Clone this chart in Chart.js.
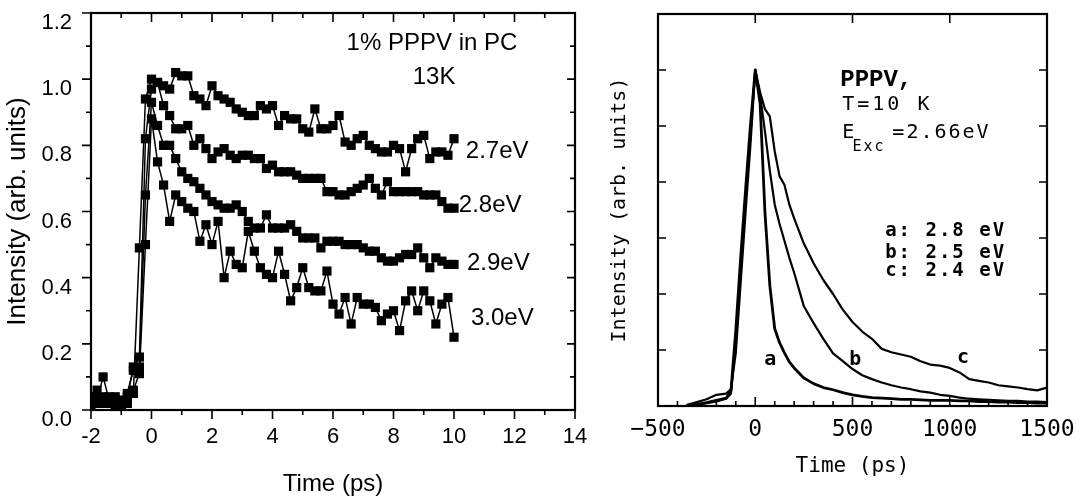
<!DOCTYPE html>
<html>
<head>
<meta charset="utf-8">
<script src="https://cdn.jsdelivr.net/npm/chart.js@4.4.0/dist/chart.umd.min.js"></script>
<style>
  html, body { margin: 0; padding: 0; background: #fff; overflow: hidden; width: 1076px; height: 496px; }
  #left { position: absolute; left: 0; top: 0; }
  #right { position: absolute; left: 600px; top: 0; }
</style>
</head>
<body>
<canvas id="left" width="610" height="500"></canvas>
<canvas id="right" width="476" height="496"></canvas>
<script>
// ---- left panel: 1% PPPV in PC, 13K ----
const leftTime = [-2, -1.8, -1.6, -1.4, -1.2, -1, -0.8, -0.6, -0.4, -0.2,
  0, 0.2, 0.4, 0.6, 0.8, 1, 1.2, 1.4, 1.6, 1.8, 2, 2.2, 2.4, 2.6, 2.8, 3, 3.2, 3.4, 3.6, 3.8,
  4, 4.2, 4.4, 4.6, 4.8, 5, 5.2, 5.4, 5.6, 5.8, 6, 6.2, 6.4, 6.6, 6.8, 7, 7.2, 7.4, 7.6, 7.8,
  8, 8.2, 8.4, 8.6, 8.8, 9, 9.2, 9.4, 9.6, 9.8, 10];

const int27 = [0.04, 0.03, 0.10, 0.03, 0.02, 0.01, 0.03, 0.05, 0.49, 0.94,
  1.00, 0.99, 0.98, 0.97, 1.02, 1.01, 1.01, 0.95, 0.94, 0.92, 0.98, 0.95, 0.94, 0.93, 0.91,
  0.90, 0.89, 0.89, 0.92, 0.91, 0.92, 0.86, 0.89, 0.88, 0.88, 0.85, 0.84, 0.91, 0.85, 0.85,
  0.86, 0.89, 0.81, 0.80, 0.82, 0.83, 0.80, 0.79, 0.78, 0.78, 0.80, 0.79, 0.72, 0.79, 0.82,
  0.83, 0.76, 0.78, 0.78, 0.77, 0.82];
const int28 = [0.02, 0.06, 0.03, 0.04, 0.03, 0.02, 0.04, 0.13, 0.16, 0.82,
  0.97, 0.99, 0.92, 0.89, 0.85, 0.85, 0.86, 0.80, 0.82, 0.79, 0.76, 0.78, 0.79, 0.77, 0.76,
  0.77, 0.77, 0.76, 0.76, 0.73, 0.74, 0.72, 0.72, 0.72, 0.71, 0.70, 0.70, 0.70, 0.70, 0.66,
  0.66, 0.65, 0.65, 0.66, 0.67, 0.68, 0.70, 0.67, 0.65, 0.69, 0.66, 0.66, 0.66, 0.66, 0.66,
  0.65, 0.65, 0.65, 0.63, 0.61, 0.61];
const int29 = [0.03, 0.02, 0.04, 0.02, 0.01, 0.03, 0.05, 0.12, 0.13, 0.65,
  0.93, 0.86, 0.80, 0.80, 0.76, 0.72, 0.70, 0.69, 0.67, 0.65, 0.63, 0.62, 0.61, 0.61, 0.62,
  0.60, 0.57, 0.55, 0.55, 0.59, 0.55, 0.55, 0.55, 0.56, 0.54, 0.52, 0.52, 0.52, 0.49, 0.51,
  0.51, 0.51, 0.50, 0.50, 0.50, 0.49, 0.48, 0.48, 0.46, 0.45, 0.45, 0.46, 0.47, 0.47, 0.49,
  0.46, 0.43, 0.46, 0.45, 0.44, 0.44];
const int30 = [0.01, 0.04, 0.02, 0.03, 0.04, 0.00, 0.02, 0.06, 0.11, 0.50,
  0.88, 0.75, 0.68, 0.57, 0.65, 0.63, 0.61, 0.60, 0.51, 0.56, 0.50, 0.57, 0.40, 0.48, 0.44,
  0.43, 0.54, 0.48, 0.43, 0.41, 0.40, 0.48, 0.41, 0.33, 0.37, 0.43, 0.37, 0.36, 0.36, 0.42,
  0.32, 0.29, 0.34, 0.26, 0.34, 0.32, 0.32, 0.31, 0.27, 0.29, 0.30, 0.24, 0.33, 0.36, 0.30,
  0.36, 0.33, 0.26, 0.32, 0.34, 0.22];
const leftNames = ['2.7eV', '2.8eV', '2.9eV', '3.0eV'];
const leftNameY = [0.782, 0.619, 0.444, 0.278];

// ---- right panel: PPPV, T=10 K ----
const rightTime = [-350, -300, -250, -200, -150, -125, -100, -75, -50, -25,
  0, 25, 50, 75, 100, 125, 150, 175, 200,
  250, 300, 350, 400, 450, 500, 550, 600, 650, 700, 750, 800, 850, 900, 950,
  1000, 1050, 1100, 1150, 1200, 1250, 1300, 1350, 1400, 1450, 1500];
const curveA = [0.00, 0.03, 0.06, 0.10, 0.14, 0.27, 1.35, 2.65, 3.85, 5.00,
  6.00, 5.40, 3.45, 2.15, 1.38, 1.13, 0.95, 0.79, 0.68,
  0.50, 0.40, 0.33, 0.29, 0.24, 0.20, 0.17, 0.15, 0.14, 0.13, 0.12, 0.12, 0.11, 0.10, 0.10,
  0.10, 0.09, 0.09, 0.08, 0.08, 0.07, 0.07, 0.06, 0.06, 0.05, 0.05];
const curveB = [0.00, 0.02, 0.05, 0.08, 0.13, 0.22, 1.15, 2.42, 3.65, 4.82,
  6.00, 5.55, 4.90, 4.20, 3.60, 3.25, 2.95, 2.65, 2.38,
  1.78, 1.48, 1.20, 0.94, 0.80, 0.66, 0.55, 0.48, 0.42, 0.37, 0.33, 0.30, 0.26, 0.24, 0.20,
  0.18, 0.15, 0.13, 0.12, 0.11, 0.10, 0.09, 0.09, 0.08, 0.08, 0.07];
const curveC = [0.02, 0.07, 0.12, 0.20, 0.22, 0.30, 0.95, 2.20, 3.45, 4.65,
  6.00, 5.60, 5.30, 5.17, 4.55, 4.10, 3.95, 3.60, 3.35,
  2.90, 2.55, 2.25, 2.00, 1.72, 1.50, 1.33, 1.20, 1.02, 0.96, 0.92, 0.88, 0.80, 0.74, 0.72,
  0.68, 0.60, 0.48, 0.45, 0.42, 0.37, 0.35, 0.33, 0.30, 0.28, 0.33];
const curveNames = ['a', 'b', 'c'];
const curveLegend = ['a: 2.8 eV', 'b: 2.5 eV', 'c: 2.4 eV'];

// frame + tick marks drawn from the chart's own scales
function frameTicks(specs, frameWidth) {
  return {
    id: 'frameTicks',
    afterDraw(chart) {
      const {ctx, chartArea: a, scales} = chart;
      ctx.save();
      ctx.strokeStyle = '#000';
      ctx.lineWidth = frameWidth;
      ctx.strokeRect(a.left, a.top, a.right - a.left, a.bottom - a.top);
      ctx.lineWidth = 1.6;
      ctx.beginPath();
      for (const s of specs) {
        const sc = scales[s.axis];
        const n = Math.round((sc.max - sc.min) / s.step);
        for (let i = 0; i <= n; i++) {
          const v = sc.min + i * s.step;
          const r = v / s.major;
          const len = Math.abs(r - Math.round(r)) < 1e-6 ? s.long : s.short;
          if (!len) continue;
          const p = sc.getPixelForValue(v);
          const d = s.out ? len : -len;
          if (s.side === 'left') { ctx.moveTo(a.left, p); ctx.lineTo(a.left - d, p); }
          if (s.side === 'right') { ctx.moveTo(a.right, p); ctx.lineTo(a.right + d, p); }
          if (s.side === 'top') { ctx.moveTo(p, a.top); ctx.lineTo(p, a.top - d); }
          if (s.side === 'bottom') { ctx.moveTo(p, a.bottom); ctx.lineTo(p, a.bottom + d); }
        }
      }
      ctx.stroke();
      ctx.restore();
    }
  };
}

function notes(items) {
  return {
    id: 'notes',
    afterDraw(chart) {
      const {ctx, scales: {x, y}} = chart;
      ctx.save();
      ctx.fillStyle = '#000';
      ctx.textBaseline = 'middle';
      for (const n of items) {
        ctx.font = n.font;
        ctx.textAlign = n.align || 'left';
        if ('letterSpacing' in ctx) ctx.letterSpacing = (n.spacing || 0) + 'px';
        ctx.fillText(n.text, x.getPixelForValue(n.x), y.getPixelForValue(n.y));
      }
      ctx.restore();
    }
  };
}

function fixed(size) {
  return function (scale) {
    if (scale.isHorizontal()) scale.height = size; else scale.width = size;
    scale.paddingTop = 0; scale.paddingBottom = 0;
    scale.paddingLeft = 0; scale.paddingRight = 0;
  };
}

const sans = 'Liberation Sans';
const mono = 'DejaVu Sans Mono';

// ---- left chart ----
new Chart(document.getElementById('left'), {
  type: 'scatter',
  data: {
    datasets: [int27, int28, int29, int30].map((vals, k) => ({
      label: leftNames[k],
      data: leftTime.map((t, i) => ({x: t, y: vals[i]})),
      showLine: true,
      borderColor: '#000',
      borderWidth: 1.5,
      pointStyle: 'rect',
      pointRadius: 6.5,
      pointBackgroundColor: '#000',
      pointBorderWidth: 0
    }))
  },
  options: {
    responsive: false,
    animation: false,
    layout: {padding: {top: 13, right: 35, left: 0, bottom: 0}},
    plugins: {legend: {display: false}, tooltip: {enabled: false}},
    scales: {
      x: {
        type: 'linear', min: -2, max: 14,
        afterFit: fixed(90),
        grid: {display: false, drawTicks: false},
        border: {display: false},
        ticks: {stepSize: 2, padding: 14, color: '#000', font: {family: sans, size: 22}},
        title: {display: true, text: 'Time (ps)', color: '#000', padding: {top: 0, bottom: 1},
          font: {family: sans, size: 24}}
      },
      y: {
        min: 0, max: 1.2,
        afterFit: fixed(91),
        grid: {display: false, drawTicks: false},
        border: {display: false},
        ticks: {stepSize: 0.2, padding: 19, labelOffset: 10, color: '#000',
          font: {family: sans, size: 22}, callback: v => v.toFixed(1)},
        title: {display: true, text: 'Intensity (arb. units)', color: '#000', padding: {top: 2, bottom: 0},
          font: {family: sans, size: 26}}
      }
    }
  },
  plugins: [
    frameTicks([
      {axis: 'x', side: 'bottom', step: 1, major: 2, long: 9, short: 5, out: true},
      {axis: 'x', side: 'top', step: 1, major: 2, long: 9, short: 5, out: false},
      {axis: 'y', side: 'left', step: 0.1, major: 0.2, long: 9, short: 5, out: true},
      {axis: 'y', side: 'right', step: 0.1, major: 0.2, long: 8, short: 5, out: false}
    ], 2.2),
    notes([
      {text: '1% PPPV in PC', x: 6.45, y: 1.109, font: '24px ' + sans},
      {text: '13K', x: 9.34, y: 1.006, font: '24px ' + sans, align: 'center'},
      {text: leftNames[0], x: 10.39, y: leftNameY[0], font: '24px ' + sans},
      {text: leftNames[1], x: 10.16, y: leftNameY[1], font: '24px ' + sans},
      {text: leftNames[2], x: 10.43, y: leftNameY[2], font: '24px ' + sans},
      {text: leftNames[3], x: 10.56, y: leftNameY[3], font: '24px ' + sans}
    ])
  ]
});

// ---- right chart ----
new Chart(document.getElementById('right'), {
  type: 'scatter',
  data: {
    datasets: [curveA, curveB, curveC].map((vals, k) => ({
      label: curveNames[k],
      data: rightTime.map((t, i) => ({x: t, y: vals[i]})),
      showLine: true,
      borderColor: '#000',
      borderWidth: k === 0 ? 2.8 : 2.2,
      borderJoinStyle: 'round',
      borderCapStyle: 'round',
      pointRadius: 0
    }))
  },
  options: {
    responsive: false,
    animation: false,
    layout: {padding: {top: 14, right: 29, left: 0, bottom: 0}},
    plugins: {legend: {display: false}, tooltip: {enabled: false}},
    scales: {
      x: {
        type: 'linear', min: -500, max: 1500,
        afterFit: fixed(90),
        grid: {display: false, drawTicks: false},
        border: {display: false},
        ticks: {stepSize: 500, padding: 10, color: '#000', font: {family: mono, size: 23},
          callback: v => String(v).replace('-', '\u2212')},
        title: {display: true, text: 'Time (ps)', color: '#000', padding: {top: 0, bottom: 17},
          font: {family: mono, size: 21}}
      },
      y: {
        min: 0, max: 7,
        afterFit: fixed(58),
        grid: {display: false, drawTicks: false},
        border: {display: false},
        ticks: {display: false, stepSize: 1},
        title: {display: true, text: 'Intensity (arb. units)', color: '#000', padding: {top: 8, bottom: 0},
          font: {family: mono, size: 20}}
      }
    }
  },
  plugins: [
    frameTicks([
      {axis: 'x', side: 'bottom', step: 100, major: 500, long: 9, short: 5, out: false},
      {axis: 'x', side: 'top', step: 500, major: 500, long: 9, short: 0, out: false},
      {axis: 'y', side: 'left', step: 1, major: 1, long: 8, short: 0, out: false},
      {axis: 'y', side: 'right', step: 1, major: 1, long: 8, short: 0, out: false}
    ], 2.2),
    notes([
      {text: 'PPPV,', x: 437, y: 5.82, font: 'bold 24px "Liberation Mono"'},
      {text: 'T=10 K', x: 447, y: 5.375, font: '20px ' + mono, spacing: 3},
      {text: 'E', x: 447, y: 4.875, font: '20px ' + mono, spacing: 2},
      {text: 'Exc', x: 500, y: 4.62, font: '15px ' + mono, spacing: 2},
      {text: '=2.66eV', x: 705, y: 4.875, font: '20px ' + mono, spacing: 2},
      {text: curveLegend[0], x: 668, y: 3.125, font: 'bold 19px ' + mono, spacing: 2},
      {text: curveLegend[1], x: 668, y: 2.73, font: 'bold 19px ' + mono, spacing: 2},
      {text: curveLegend[2], x: 668, y: 2.41, font: 'bold 19px ' + mono, spacing: 2},
      {text: curveNames[0], x: 77, y: 0.82, font: 'bold 20px ' + mono, align: 'center'},
      {text: curveNames[1], x: 514, y: 0.82, font: 'bold 20px ' + mono, align: 'center'},
      {text: curveNames[2], x: 1068, y: 0.86, font: 'bold 20px ' + mono, align: 'center'}
    ])
  ]
});
</script>
</body>
</html>
